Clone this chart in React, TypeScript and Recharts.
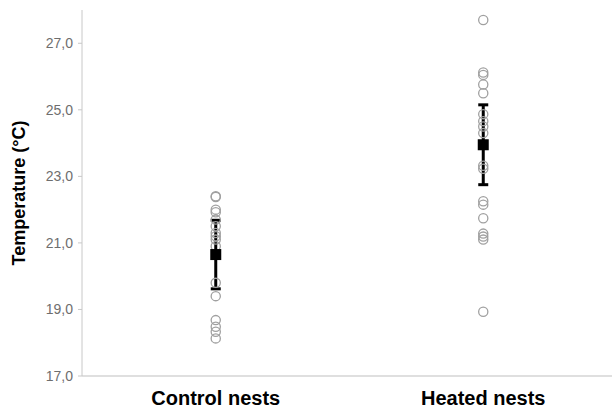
import { ScatterChart, Scatter, XAxis, YAxis, ErrorBar } from "recharts"

// group labels on the x axis
const categories = ["Control nests", "Heated nests"]

// individual nest temperatures (°C)
const controlTemps = [
  22.4, 22.38, 22.0, 21.92, 21.7, 21.5, 21.3, 21.2, 21.1, 20.9, 19.8, 19.4, 18.68, 18.48, 18.33, 18.13,
]
const heatedTemps = [
  27.7, 26.12, 26.05, 25.76, 25.5, 24.87, 24.66, 24.5, 24.3, 23.32, 23.23, 22.25, 22.15, 21.74, 21.28,
  21.19, 21.1, 18.93,
]

// group mean and error (±)
const means = [20.65, 23.95]
const errors = [1.03, 1.2]

const yTicks = [17, 19, 21, 23, 25, 27]

const groups = [controlTemps, heatedTemps]
const points = groups.flatMap((temps, i) => temps.map((t) => ({ x: i + 0.5, y: t })))
const meanData = means.map((m, i) => ({ x: i + 0.5, y: m, err: errors[i] }))

const font = "'Liberation Sans', Arial, sans-serif"

const OpenCircle = (props: any) => (
  <circle cx={props.cx} cy={props.cy} r={4.6} fill="none" stroke="#a0a0a0" strokeWidth={1.3} />
)

const MeanSquare = (props: any) => (
  <rect x={props.cx - 5.5} y={props.cy - 5.5} width={11} height={11} fill="#000" />
)

export default function App() {
  return (
    <div style={{ position: "absolute", left: 0, top: 0, width: 612, height: 414, overflow: "hidden", background: "#fff" }}>
      <ScatterChart width={617} height={414} margin={{ top: 10, right: 0, left: 0, bottom: 0 }}>
        <XAxis
          type="number"
          dataKey="x"
          domain={[0, 2]}
          ticks={[0.5, 1.5]}
          tickFormatter={(v: number) => categories[Math.floor(v)]}
          height={38}
          tickLine={false}
          tickSize={0}
          tickMargin={15}
          axisLine={{ stroke: "#d4d4d4", strokeWidth: 1.5 }}
          tick={{ fill: "#000", fontSize: 20, fontWeight: "bold", fontFamily: font }}
          allowDataOverflow
        />
        <YAxis
          type="number"
          dataKey="y"
          domain={[17, 28]}
          ticks={yTicks}
          tickFormatter={(v: number) => v.toFixed(1).replace(".", ",")}
          width={82}
          tickSize={4}
          tickMargin={5}
          axisLine={{ stroke: "#c8c8c8" }}
          tickLine={{ stroke: "#c8c8c8" }}
          tick={{ fill: "#6e6e6e", fontSize: 14, fontFamily: font }}
          label={{
            value: "Temperature (°C)",
            angle: -90,
            position: "insideLeft",
            offset: 19,
            style: { textAnchor: "middle", fill: "#000", fontSize: 18, fontWeight: "bold", fontFamily: font },
          }}
          allowDataOverflow
        />
        <Scatter data={points} shape={OpenCircle} isAnimationActive={false} />
        <Scatter data={meanData} shape={MeanSquare} isAnimationActive={false}>
          <ErrorBar dataKey="err" direction="y" width={5} strokeWidth={3} stroke="#000" />
        </Scatter>
      </ScatterChart>
    </div>
  )
}
